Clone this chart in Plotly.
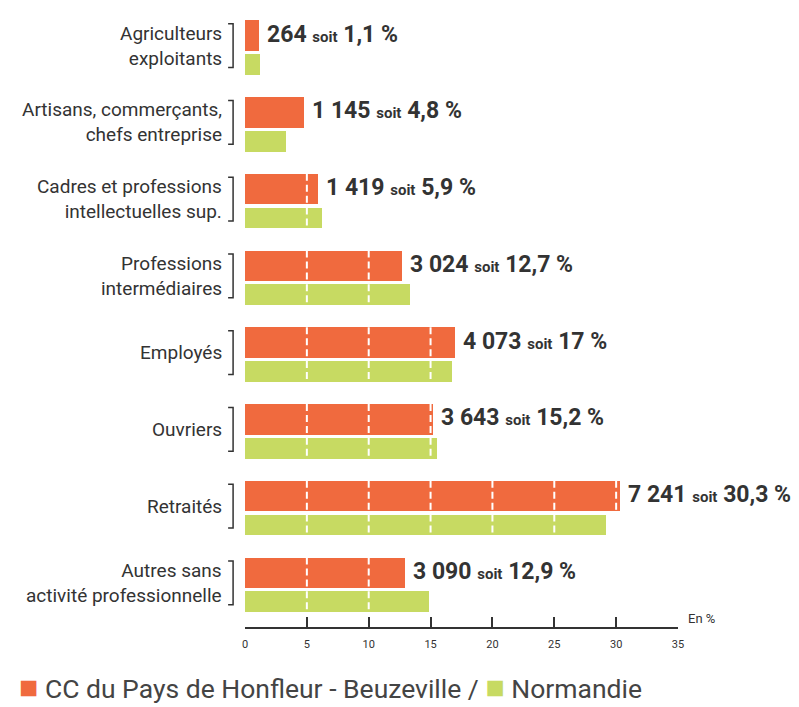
import plotly.graph_objects as go

# ---------------- Data ----------------

CATEGORIES = [
    "Agriculteurs<br>exploitants",
    "Artisans, commerçants,<br>chefs entreprise",
    "Cadres et professions<br>intellectuelles sup.",
    "Professions<br>intermédiaires",
    "Employés",
    "Ouvriers",
    "Retraités",
    "Autres sans<br>activité professionnelle",
]

CC_COUNT = [264, 1145, 1419, 3024, 4073, 3643, 7241, 3090]
CC_PCT = [1.1, 4.8, 5.9, 12.7, 17, 15.2, 30.3, 12.9]
NORMANDIE_PCT = [1.2, 3.3, 6.2, 13.3, 16.7, 15.5, 29.2, 14.9]

X_TICKS = [0, 5, 10, 15, 20, 25, 30, 35]

ORANGE = "#F06A3E"
GREEN = "#C7DA62"
INK = "#333333"
FONT = "Roboto, Liberation Sans, sans-serif"

# bar geometry (in category units)
OR_OFF, OR_W = -0.355, 0.40
GR_OFF, GR_W = 0.085, 0.27

# ---------------- Helpers ----------------

def fmt_count(n):
    return f"{n:,}".replace(",", " ")

def fmt_pct(v):
    return f"{v:g}".replace(".", ",")

def grid_segments(values, off, w):
    xs, ys = [], []
    for i, v in enumerate(values):
        for t in X_TICKS[1:]:
            if t < v:
                xs += [t, t, None]
                ys += [i + off, i + off + w, None]
    return xs, ys

# ---------------- Figure ----------------

pos = list(range(len(CATEGORIES)))

fig = go.Figure()

fig.add_trace(go.Bar(
    x=CC_PCT, y=pos, orientation="h",
    width=OR_W, offset=OR_OFF,
    marker=dict(color=ORANGE, line=dict(width=0)),
    hoverinfo="skip", showlegend=False,
))

fig.add_trace(go.Bar(
    x=NORMANDIE_PCT, y=pos, orientation="h",
    width=GR_W, offset=GR_OFF,
    marker=dict(color=GREEN, line=dict(width=0)),
    hoverinfo="skip", showlegend=False,
))

# white dashed grid drawn only over the bars
for vals, off, w in [(CC_PCT, OR_OFF, OR_W), (NORMANDIE_PCT, GR_OFF, GR_W)]:
    gx, gy = grid_segments(vals, off, w)
    fig.add_trace(go.Scatter(
        x=gx, y=gy, mode="lines",
        line=dict(color="white", width=2, dash="7px,4px"),
        hoverinfo="skip", showlegend=False,
    ))

# ---------- Annotations ----------

annotations = []
shapes = []

for i, cat in enumerate(CATEGORIES):
    annotations.append(dict(
        x=-0.0485, xref="paper", y=i, yref="y",
        text=cat, showarrow=False, xanchor="right", yanchor="middle",
        align="right", yshift=2,
        font=dict(family=FONT, size=19, color=INK),
    ))
    c = i - 0.025
    h = 0.285
    shapes.append(dict(
        type="path", xref="paper", yref="y",
        path=f"M -0.039 {c - h} L -0.0275 {c - h} L -0.0275 {c + h} L -0.039 {c + h}",
        line=dict(color=INK, width=1.5),
    ))
    annotations.append(dict(
        x=CC_PCT[i], xref="x", y=i + OR_OFF + OR_W / 2 - 0.02, yref="y",
        text=(f"<b>{fmt_count(CC_COUNT[i])}</b> "
              f"<b><span style='font-size:15px'>soit</span></b> "
              f"<b>{fmt_pct(CC_PCT[i])} %</b>"),
        showarrow=False, xanchor="left", yanchor="middle", xshift=6,
        font=dict(family=FONT, size=23, color=INK),
    ))

annotations.append(dict(
    x=35, xref="x", y=0, yref="paper",
    text="En %", showarrow=False, xanchor="left", yanchor="bottom",
    xshift=8, yshift=-1,
    font=dict(family=FONT, size=13, color=INK),
))

annotations.append(dict(
    x=-0.526, xref="paper", y=-0.097, yref="paper",
    text=(f"<span style='color:{ORANGE};font-size:32px'>■</span> "
          f"CC du Pays de Honfleur - Beuzeville / "
          f"<span style='color:{GREEN};font-size:32px'>■</span> Normandie"),
    showarrow=False, xanchor="left", yanchor="middle",
    font=dict(family=FONT, size=26.5, color="#444444"),
))

# ---------- Layout ----------

# page body has an 8px margin, so the figure is sized to the remaining space
fig.update_layout(
    width=791,
    height=699,
    margin=dict(l=237, r=121, t=0, b=80),
    paper_bgcolor="white",
    plot_bgcolor="white",
    bargap=0,
    barmode="overlay",
    annotations=annotations,
    shapes=shapes,
    font=dict(family=FONT, color=INK),
)

fig.update_xaxes(
    range=[0, 35],
    tickvals=X_TICKS,
    ticks="inside",
    ticklen=10,
    tickwidth=1.5,
    tickcolor=INK,
    showline=True,
    linecolor=INK,
    linewidth=1.5,
    showgrid=False,
    zeroline=False,
    tickfont=dict(family=FONT, size=11, color=INK),
    ticklabelstandoff=6,
)

fig.update_yaxes(
    range=[7.55, -0.515],
    showticklabels=False,
    showgrid=False,
    zeroline=False,
    showline=False,
    ticks="",
)

fig.write_html("out.html")
